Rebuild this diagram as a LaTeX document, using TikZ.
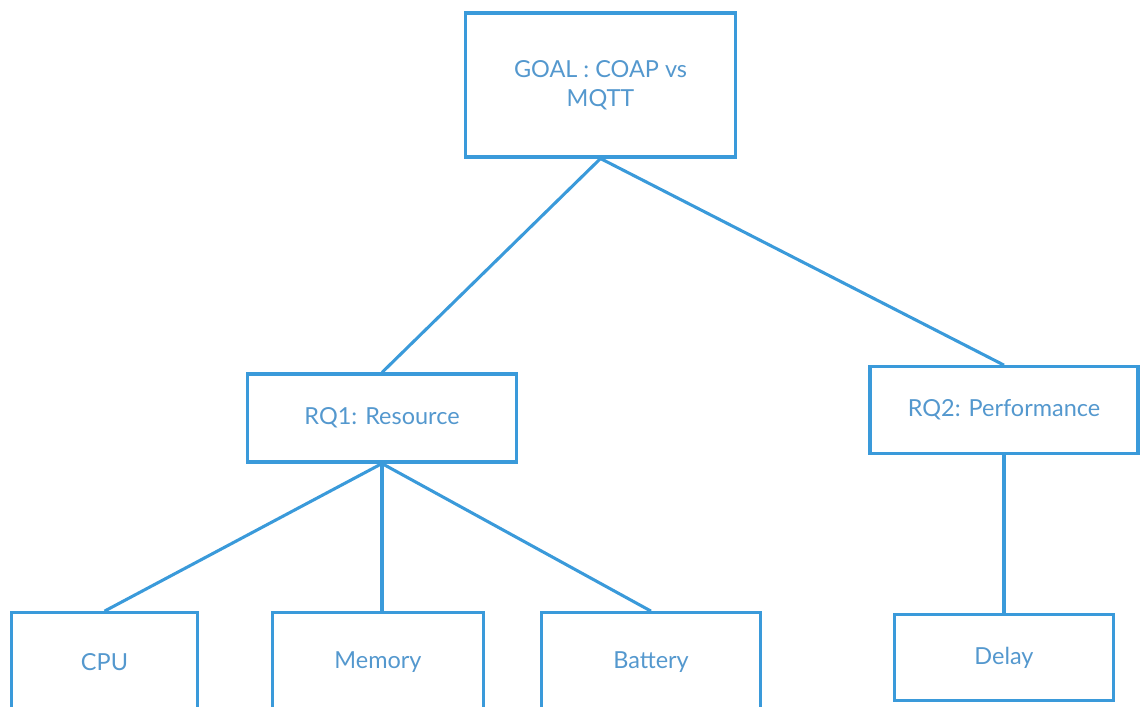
\documentclass[tikz,border=0pt]{standalone}
\usepackage{fontspec}
\setmainfont{Lato}
\usepackage{tikz}
\usetikzlibrary{positioning}
\definecolor{boxblue}{RGB}{58,154,218}
\definecolor{textblue}{RGB}{84,152,206}

\begin{document}
\begin{tikzpicture}[x=0.75pt, y=-0.75pt,
  box/.style={draw=boxblue, line width=2.3pt, rectangle, inner sep=0pt,
              text=textblue, font=\fontsize{17.6}{21.75}\selectfont, align=center},
  link/.style={draw=boxblue, line width=2.3pt}]
\clip (0,0) rectangle (1141,706);
% top goal
\node[box, minimum width=202pt, minimum height=108pt] (goal) at (600.5,85) {GOAL : COAP vs\\MQTT};
% research questions
\node[box, minimum width=202pt, minimum height=66pt] (rq1) at (382,418) {RQ1: Resource};
\node[box, minimum width=201pt, minimum height=65pt] (rq2) at (1004,410) {RQ2: Performance};
% metrics
\node[box, minimum width=139pt, minimum height=74pt] (cpu) at (104.5,662) {CPU};
\node[box, minimum width=158pt, minimum height=74pt] (mem) at (378,662) {Memory};
\node[box, minimum width=164pt, minimum height=74pt] (bat) at (651,662) {Battery};
\node[box, minimum width=164pt, minimum height=65pt] (delay) at (1004,657.5) {Delay};
% links
\draw[link] (goal.south) -- (rq1.north);
\draw[link] (goal.south) -- (rq2.north);
\draw[link] (rq1.south) -- (cpu.north);
\draw[link] (rq1.south) -- (rq1.south |- mem.north);
\draw[link] (rq1.south) -- (bat.north);
\draw[link] (rq2.south) -- (delay.north);
\end{tikzpicture}
\end{document}
